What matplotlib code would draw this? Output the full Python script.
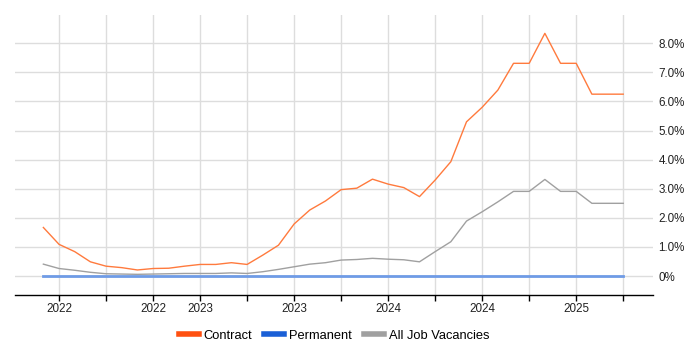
import matplotlib
matplotlib.use('Agg')
import matplotlib.pyplot as plt
from matplotlib.lines import Line2D
import numpy as np

plt.rcParams['font.family'] = ['Liberation Sans', 'DejaVu Sans']

# monthly share of job ads (%), 38 months
contract = [1.67, 1.09, 0.84, 0.49, 0.34, 0.29, 0.21, 0.26, 0.27, 0.34,
            0.40, 0.40, 0.46, 0.40, 0.72, 1.06, 1.79, 2.27, 2.58, 2.97,
            3.02, 3.33, 3.16, 3.04, 2.73, 3.30, 3.93, 5.30, 5.80, 6.39,
            7.31, 7.31, 8.34, 7.31, 7.31, 6.25, 6.25, 6.25]
permanent = [0.0] * 38
all_jobs = [0.41, 0.26, 0.20, 0.13, 0.08, 0.07, 0.06, 0.07, 0.08, 0.09,
            0.09, 0.09, 0.11, 0.09, 0.15, 0.23, 0.32, 0.41, 0.46, 0.55,
            0.57, 0.61, 0.58, 0.56, 0.49, 0.84, 1.18, 1.89, 2.21, 2.55,
            2.91, 2.91, 3.32, 2.91, 2.91, 2.50, 2.50, 2.50]

tick_labels = ['2022', '', '2022', '2023', '', '2023', '', '2024', '',
               '2024', '', '2025', '']
y_ticks = [0, 1, 2, 3, 4, 5, 6, 7, 8]
y_labels = ['0%'] + ['%.1f%%' % v for v in y_ticks[1:]]

months = np.arange(len(contract))
tick_pos = np.arange(1, len(contract), 3)

fig = plt.figure(figsize=(7, 3.5), dpi=100)
ax = fig.add_axes([15 / 700, 1 - 295 / 350, 638 / 700, 280 / 350])

ax.plot(months, all_jobs, color='#a0a0a0', lw=1.0, zorder=3)
ax.plot(months, permanent, color='#6f9be6', lw=2.0, zorder=3)
ax.plot(months, contract, color='#ff7a3d', lw=1.0, zorder=4)

ax.set_xlim(-1.81, 38.9)
ax.set_ylim(-0.65, 8.97)

ax.set_xticks(tick_pos)
ax.set_xticklabels(tick_labels, fontsize=8.4, color='#222222')
ax.set_yticks(y_ticks)
ax.set_yticklabels(y_labels, fontsize=8.4, color='#222222')
ax.yaxis.tick_right()
ax.tick_params(axis='y', length=0, pad=4)
ax.tick_params(axis='x', length=4, width=1, color='black', pad=2)

ax.grid(True, color='#dddddd', lw=1)
ax.set_axisbelow(True)
for s in ['top', 'left', 'right']:
    ax.spines[s].set_visible(False)
ax.spines['bottom'].set_color('black')
ax.spines['bottom'].set_linewidth(1)

handles = [Line2D([], [], color='#ff5010', lw=4),
           Line2D([], [], color='#1a5fd6', lw=4),
           Line2D([], [], color='#a0a0a0', lw=4)]
ax.legend(handles, ['Contract', 'Permanent', 'All Job Vacancies'],
          loc='center', bbox_to_anchor=(0.5, -0.145), ncol=3, frameon=False,
          fontsize=9.3, handlelength=1.55, handletextpad=0.4,
          columnspacing=0.9)

fig.savefig('out.png', dpi=100)
